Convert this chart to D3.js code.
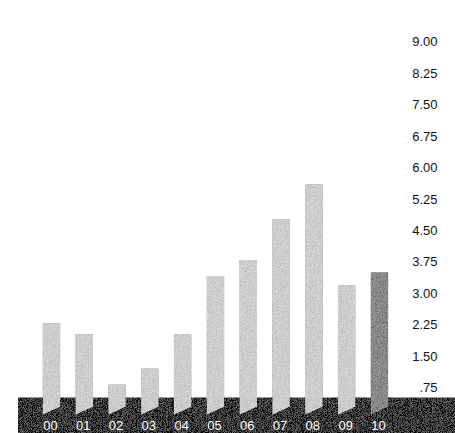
<!DOCTYPE html>
<html><head><meta charset="utf-8">
<script src="https://cdn.jsdelivr.net/npm/d3@7"></script>
<style>html,body{margin:0;padding:0;background:#fff;}svg{display:block;}</style>
</head><body>
<svg id="c" width="455" height="433"></svg>
<script>
const years = ["00","01","02","03","04","05","06","07","08","09","10"];
const values = [2.28, 2.02, 0.82, 1.20, 2.02, 3.41, 3.79, 4.76, 5.60, 3.19, 3.50];
const tickValues = [0.75, 1.5, 2.25, 3, 3.75, 4.5, 5.25, 6, 6.75, 7.5, 8.25, 9];
const tickLabels = [".75","1.50","2.25","3.00","3.75","4.50","5.25","6.00","6.75","7.50","8.25","9.00"];

const svg = d3.select("#c");
const W = 455, H = 433;

const defs = svg.append("defs");
const f = defs.append("filter").attr("id","grain").attr("x",0).attr("y",0).attr("width",1).attr("height",1);
f.append("feTurbulence").attr("type","fractalNoise").attr("baseFrequency",1.2).attr("numOctaves",1).attr("seed",3).attr("result","n");
f.append("feColorMatrix").attr("in","n").attr("type","matrix")
  .attr("values","0.33 0.33 0.33 0 0  0.33 0.33 0.33 0 0  0.33 0.33 0.33 0 0  0 0 0 0 1").attr("result","g");
f.append("feComposite").attr("in","SourceGraphic").attr("in2","g").attr("operator","arithmetic")
  .attr("k1",0).attr("k2",1).attr("k3",0.9).attr("k4",-0.45).attr("result","m");
f.append("feComposite").attr("in","m").attr("in2","SourceGraphic").attr("operator","in");

const y = d3.scaleLinear().domain([0, 9]).range([418.8, 41.7]);
const x = d3.scaleBand().domain(years).range([42.7, 388.2]).paddingInner(0.4665).paddingOuter(0);

// base band
svg.append("rect").attr("x", 18).attr("y", 397.5).attr("width", W - 18).attr("height", H - 397.5)
  .attr("fill", "#3e3e3e").attr("filter","url(#grain)");

// bars with slanted bottom
const y0 = y(0);
svg.append("g").selectAll("path").data(years).join("path")
  .attr("d", (d, i) => {
    const l = x(d), r = x(d) + x.bandwidth(), t = y(values[i]);
    return `M${l},${t}L${r},${t}L${r},${y0 - 12}L${l},${y0 - 4}Z`;
  })
  .attr("fill", (d, i) => i === years.length - 1 ? "#8a8a8a" : "#cdcdcd")
  .attr("filter","url(#grain)");

// category labels
svg.append("g").selectAll("text").data(years).join("text")
  .attr("x", d => x(d) + x.bandwidth() / 2 - 1)
  .attr("y", 429.5)
  .attr("text-anchor", "middle")
  .attr("fill", "#fff")
  .attr("font-family", "Liberation Sans, Arial, sans-serif")
  .attr("font-size", 13)
  .text(d => d);

// right axis labels
svg.append("g").selectAll("text").data(tickValues).join("text")
  .attr("x", 437.5)
  .attr("y", d => y(d))
  .attr("dy", "0.36em")
  .attr("text-anchor", "end")
  .attr("fill", "#111")
  .attr("font-family", "Liberation Sans, Arial, sans-serif")
  .attr("font-size", 13)
  .text((d, i) => tickLabels[i]);
</script>
</body></html>
